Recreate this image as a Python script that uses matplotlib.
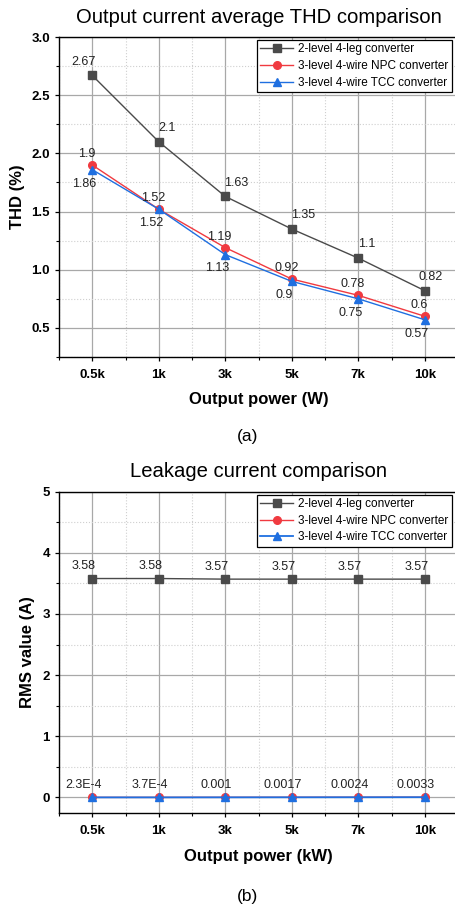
import matplotlib
matplotlib.use('Agg')
import matplotlib.pyplot as plt
from matplotlib.ticker import MultipleLocator, FixedLocator, FormatStrFormatter

plt.rcParams['font.family'] = ['Liberation Sans', 'DejaVu Sans']

# data
power_labels = ['0.5k', '1k', '3k', '5k', '7k', '10k']
names = ['2-level 4-leg converter', '3-level 4-wire NPC converter', '3-level 4-wire TCC converter']

thd_2level = [2.67, 2.1, 1.63, 1.35, 1.1, 0.82]
thd_npc = [1.9, 1.52, 1.19, 0.92, 0.78, 0.6]
thd_tcc = [1.86, 1.52, 1.13, 0.9, 0.75, 0.57]

leak_2level = [3.58, 3.58, 3.57, 3.57, 3.57, 3.57]
leak_npc = [2.3e-4, 3.7e-4, 0.001, 0.0017, 0.0024, 0.0033]
leak_tcc = [2.3e-4, 3.7e-4, 0.001, 0.0017, 0.0024, 0.0033]

c_black = '#4a4a4a'
c_red = '#f03a40'
c_blue = '#1f6fe0'


def fmt(v):
    if v < 1e-3:
        m, e = ('%.1E' % v).split('E')
        return m + 'E' + str(int(e))
    return '%g' % v


def style_axes(ax, ymin, ymax, ymajor, yminor):
    x = range(len(power_labels))
    ax.set_xlim(-0.5, len(power_labels) - 0.5)
    ax.set_ylim(ymin, ymax)
    ax.xaxis.set_major_locator(FixedLocator(list(x)))
    ax.xaxis.set_minor_locator(FixedLocator([i + 0.5 for i in range(-1, len(power_labels))]))
    ax.set_xticklabels(power_labels)
    ax.yaxis.set_major_locator(MultipleLocator(ymajor))
    ax.yaxis.set_minor_locator(MultipleLocator(yminor))
    ax.grid(which='major', color='#a8a8a8', linewidth=0.9, linestyle='-')
    ax.grid(which='minor', color='#cfcfcf', linewidth=0.8, linestyle=':')
    ax.set_axisbelow(True)
    ax.tick_params(which='major', direction='out', length=3, width=0.9, labelsize=9.5, pad=3.5)
    ax.tick_params(axis='x', which='major', pad=5.5)
    ax.tick_params(which='minor', direction='out', length=2, width=0.8)
    for lab in ax.get_xticklabels() + ax.get_yticklabels():
        lab.set_fontweight('bold')
    for s in ax.spines.values():
        s.set_linewidth(1.0)
        s.set_color('black')
    ax.legend(loc='upper right', bbox_to_anchor=(1 - 6 / 399, 1 - 3 / 320), borderaxespad=0,
              fontsize=8.5, handlelength=2.8, handletextpad=0.45, labelspacing=0.4,
              borderpad=0.28, fancybox=False, edgecolor='black', framealpha=1)
    ax.get_legend().get_frame().set_linewidth(0.9)


def label_points(ax, values, dx, dy):
    for i, v in enumerate(values):
        ddx = dx[i] if isinstance(dx, list) else dx
        ax.annotate(fmt(v), (i, v), xytext=(ddx, dy), textcoords='offset points',
                    ha='center', va='center', fontsize=9, color='#222222')


fig = plt.figure(figsize=(4.55, 9.08), dpi=100)
ax1 = fig.add_axes([59 / 455, 1 - 357 / 908, 399 / 455, 320 / 908])
ax2 = fig.add_axes([59 / 455, 1 - 812.7 / 908, 399 / 455, 321 / 908])

x = list(range(len(power_labels)))

# (a) THD
ax1.plot(x, thd_2level, color=c_black, marker='s', ms=6, lw=1.0, label=names[0])
ax1.plot(x, thd_npc, color=c_red, marker='o', ms=5.5, lw=1.0, label=names[1])
ax1.plot(x, thd_tcc, color=c_blue, marker='^', ms=6, lw=1.0, label=names[2])
label_points(ax1, thd_2level, [-6, 6, 8, 8, 6, 4], 10)
label_points(ax1, thd_npc, -4, 8)
label_points(ax1, thd_tcc, -5.5, -10)
style_axes(ax1, 0.25, 3.0, 0.5, 0.25)
ax1.yaxis.set_major_formatter(FormatStrFormatter('%.1f'))
ax1.set_title('Output current average THD comparison', fontsize=14.6, pad=10)
ax1.set_ylabel('THD (%)', fontsize=12, fontweight='bold')
ax1.set_xlabel('Output power (W)', fontsize=12, fontweight='bold')
ax1.yaxis.set_label_coords(-0.103, 0.5)
ax1.xaxis.set_label_coords(0.5, -0.134)
ax1.xaxis.label.set_va('center')
ax1.yaxis.label.set_va('center')

# (b) leakage current
ax2.plot(x, leak_2level, color=c_black, marker='s', ms=6, lw=1.0, label=names[0])
ax2.plot(x, leak_npc, color=c_red, marker='o', ms=5.5, lw=1.0, label=names[1])
ax2.plot(x, leak_tcc, color=c_blue, marker='^', ms=6, lw=1.3, label=names[2])
label_points(ax2, leak_2level, -6, 9)
label_points(ax2, leak_tcc, -6.5, 9)
style_axes(ax2, -0.25, 5, 1, 0.5)
ax2.set_title('Leakage current comparison', fontsize=14.6, pad=10.5)
ax2.set_ylabel('RMS value (A)', fontsize=12, fontweight='bold')
ax2.set_xlabel('Output power (kW)', fontsize=12, fontweight='bold')
ax2.yaxis.set_label_coords(-0.078, 0.5)
ax2.xaxis.set_label_coords(0.5, -0.135)
ax2.xaxis.label.set_va('center')
ax2.yaxis.label.set_va('center')

fig.text(248 / 455, 1 - 437 / 908, '(a)', ha='center', va='center', fontsize=12.5)
fig.text(248 / 455, 1 - 897 / 908, '(b)', ha='center', va='center', fontsize=12.5)

fig.savefig('out.png', dpi=100)
